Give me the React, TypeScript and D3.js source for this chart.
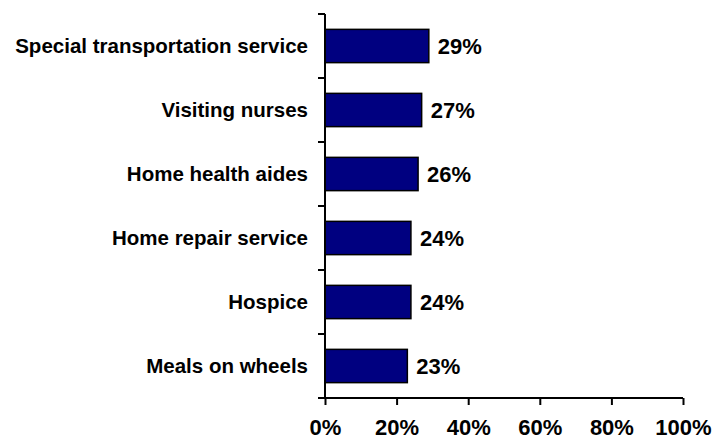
import React, { useEffect, useRef } from 'react';
import * as d3 from 'd3';

const categories = [
  'Special transportation service',
  'Visiting nurses',
  'Home health aides',
  'Home repair service',
  'Hospice',
  'Meals on wheels',
];
const values = [29, 27, 26, 24, 24, 23];
const xTicks = [0, 20, 40, 60, 80, 100];

const WIDTH = 726;
const HEIGHT = 441;
const FONT = '"Liberation Sans", Arial, sans-serif';

const App: React.FC = () => {
  const svgRef = useRef<SVGSVGElement>(null);

  useEffect(() => {
    const svg = d3.select(svgRef.current);
    svg.selectAll('*').remove();

    const left = 325;
    const right = 683;
    const top = 14;
    const bottom = 398;

    const x = d3.scaleLinear().domain([0, 100]).range([left, right]);
    const y = d3.scaleBand<string>()
      .domain(categories)
      .range([top, bottom])
      .paddingInner(0.48)
      .paddingOuter(0.24);

    const step = y.step();

    // bars
    svg.append('g')
      .selectAll('rect')
      .data(categories)
      .enter().append('rect')
      .attr('x', x(0))
      .attr('y', d => y(d)!)
      .attr('width', (_d, i) => x(values[i]) - x(0))
      .attr('height', y.bandwidth())
      .attr('fill', '#000080')
      .attr('stroke', '#000')
      .attr('stroke-width', 1.5);

    // value labels
    svg.append('g')
      .selectAll('text')
      .data(categories)
      .enter().append('text')
      .attr('x', (_d, i) => x(values[i]) + 9)
      .attr('y', d => y(d)! + y.bandwidth() / 2)
      .attr('dy', '0.36em')
      .attr('font-family', FONT)
      .attr('font-weight', 'bold')
      .attr('font-size', 22)
      .text((_d, i) => `${values[i]}%`);

    // category labels
    svg.append('g')
      .selectAll('text')
      .data(categories)
      .enter().append('text')
      .attr('x', 308)
      .attr('y', d => y(d)! + y.bandwidth() / 2)
      .attr('dy', '0.36em')
      .attr('text-anchor', 'end')
      .attr('font-family', FONT)
      .attr('font-weight', 'bold')
      .attr('font-size', 20.5)
      .text(d => d);

    // y axis line + ticks at band boundaries
    const boundaries = d3.range(categories.length + 1).map(i => top + i * step);
    svg.append('line')
      .attr('x1', left).attr('x2', left)
      .attr('y1', top).attr('y2', bottom)
      .attr('stroke', '#000').attr('stroke-width', 2);
    svg.append('g')
      .selectAll('line')
      .data(boundaries)
      .enter().append('line')
      .attr('x1', left - 7).attr('x2', left)
      .attr('y1', d => d).attr('y2', d => d)
      .attr('stroke', '#000').attr('stroke-width', 2);

    // x axis
    const xAxis = svg.append('g')
      .attr('transform', `translate(0,${bottom})`)
      .call(d3.axisBottom(x).tickValues(xTicks).tickSize(7).tickPadding(14).tickFormat(d => `${d}%`));
    xAxis.select('.domain').attr('stroke', '#000').attr('stroke-width', 2)
      .attr('d', `M${left},0H${right}`);
    xAxis.selectAll('.tick line').attr('stroke', '#000').attr('stroke-width', 2);
    xAxis.selectAll('.tick text')
      .attr('fill', '#000')
      .attr('font-family', FONT)
      .attr('font-weight', 'bold')
      .attr('font-size', 22);
  }, []);

  return (
    <div style={{ position: 'absolute', left: 0, top: 0, width: WIDTH, height: HEIGHT, background: '#fff' }}>
      <svg ref={svgRef} width={WIDTH} height={HEIGHT}></svg>
    </div>
  );
};

export default App;
